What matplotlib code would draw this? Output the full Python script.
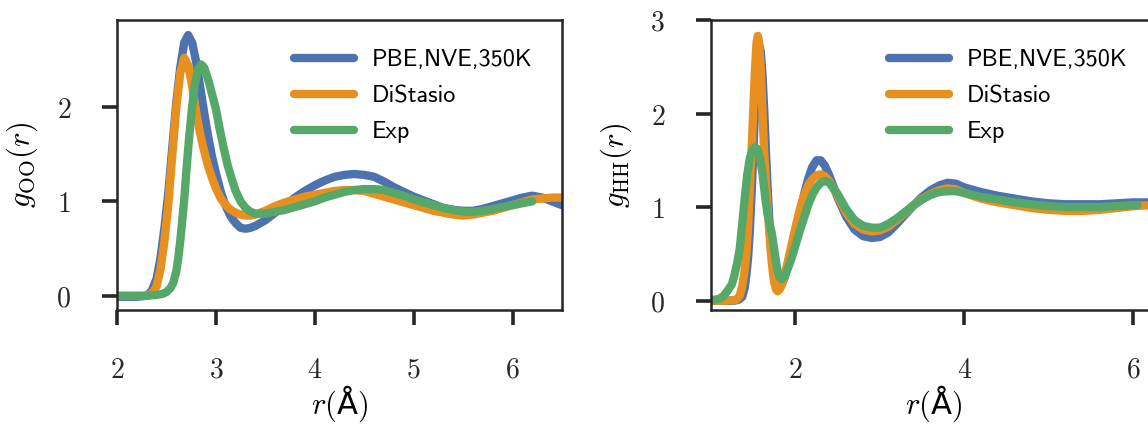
import matplotlib
matplotlib.use("Agg")
import matplotlib.pyplot as plt
from matplotlib.ticker import FuncFormatter

plt.rcParams["mathtext.fontset"] = "cm"

# O-O radial distribution
oo_pbe_r = [2.00, 2.10, 2.20, 2.30, 2.35, 2.40, 2.44, 2.48, 2.52, 2.56, 2.60, 2.64,
            2.68, 2.72, 2.76, 2.80, 2.84, 2.88, 2.92, 2.96, 3.00, 3.05, 3.10, 3.15,
            3.20, 3.25, 3.30, 3.35, 3.40, 3.50, 3.60, 3.70, 3.80, 3.90, 4.00, 4.10,
            4.20, 4.30, 4.40, 4.50, 4.60, 4.70, 4.80, 4.90, 5.00, 5.10, 5.20, 5.30,
            5.40, 5.50, 5.60, 5.70, 5.80, 5.90, 6.00, 6.10, 6.20, 6.30, 6.40, 6.50]
oo_pbe_g = [-0.01, -0.01, -0.01, 0.00, 0.05, 0.18, 0.40, 0.72, 1.10, 1.58, 2.05, 2.42,
            2.68, 2.76, 2.68, 2.48, 2.22, 1.95, 1.70, 1.48, 1.30, 1.10, 0.95, 0.84,
            0.77, 0.72, 0.71, 0.72, 0.74, 0.80, 0.88, 0.96, 1.04, 1.11, 1.17, 1.22,
            1.26, 1.28, 1.29, 1.28, 1.26, 1.21, 1.15, 1.10, 1.05, 1.01, 0.97, 0.93,
            0.91, 0.90, 0.90, 0.92, 0.95, 0.98, 1.01, 1.04, 1.06, 1.04, 1.00, 0.96]

oo_dis_r = [2.00, 2.20, 2.30, 2.36, 2.40, 2.44, 2.48, 2.52, 2.56, 2.60, 2.64, 2.68,
            2.72, 2.76, 2.80, 2.84, 2.88, 2.92, 2.96, 3.00, 3.05, 3.10, 3.15, 3.20,
            3.25, 3.30, 3.35, 3.40, 3.50, 3.60, 3.70, 3.80, 3.90, 4.00, 4.10, 4.20,
            4.30, 4.40, 4.50, 4.60, 4.70, 4.80, 4.90, 5.00, 5.10, 5.20, 5.30, 5.40,
            5.50, 5.60, 5.70, 5.80, 5.90, 6.00, 6.10, 6.20, 6.30, 6.40, 6.50]
oo_dis_g = [0.00, 0.00, 0.00, 0.03, 0.10, 0.28, 0.58, 0.98, 1.50, 2.00, 2.36, 2.52,
            2.44, 2.22, 1.95, 1.72, 1.54, 1.38, 1.25, 1.14, 1.03, 0.96, 0.91, 0.88,
            0.86, 0.85, 0.85, 0.86, 0.90, 0.95, 0.99, 1.02, 1.05, 1.07, 1.09, 1.11,
            1.12, 1.12, 1.11, 1.08, 1.05, 1.02, 0.99, 0.96, 0.93, 0.90, 0.88, 0.86,
            0.85, 0.86, 0.88, 0.90, 0.93, 0.96, 0.99, 1.02, 1.03, 1.04, 1.04]

oo_exp_r = [2.00, 2.20, 2.30, 2.40, 2.46, 2.50, 2.54, 2.57, 2.60, 2.62, 2.64, 2.66,
            2.68, 2.70, 2.73, 2.76, 2.79, 2.82, 2.85, 2.88, 2.91, 2.94, 2.97, 3.00,
            3.04, 3.08, 3.12, 3.16, 3.20, 3.25, 3.30, 3.35, 3.40, 3.45, 3.50, 3.60,
            3.70, 3.80, 3.90, 4.00, 4.10, 4.20, 4.30, 4.40, 4.50, 4.60, 4.70, 4.80,
            4.90, 5.00, 5.10, 5.20, 5.30, 5.40, 5.50, 5.60, 5.70, 5.80, 5.90, 6.00,
            6.10, 6.20]
oo_exp_g = [0.00, 0.00, 0.00, 0.01, 0.02, 0.04, 0.08, 0.14, 0.26, 0.40, 0.58, 0.80,
            1.02, 1.30, 1.68, 2.00, 2.25, 2.40, 2.45, 2.42, 2.33, 2.22, 2.10, 1.98,
            1.76, 1.56, 1.38, 1.24, 1.11, 1.00, 0.93, 0.89, 0.87, 0.87, 0.87, 0.89,
            0.91, 0.94, 0.97, 1.00, 1.04, 1.07, 1.10, 1.12, 1.13, 1.13, 1.12, 1.09,
            1.06, 1.02, 0.99, 0.96, 0.93, 0.91, 0.89, 0.89, 0.90, 0.92, 0.94, 0.96,
            0.98, 1.00]

# H-H radial distribution
hh_pbe_r = [1.00, 1.10, 1.20, 1.28, 1.33, 1.37, 1.40, 1.42, 1.44, 1.46, 1.48, 1.50,
            1.52, 1.54, 1.56, 1.575, 1.59, 1.61, 1.63, 1.65, 1.67, 1.69, 1.71, 1.73,
            1.75, 1.77, 1.80, 1.83, 1.87, 1.92, 1.96, 2.00, 2.05, 2.10, 2.15, 2.20,
            2.25, 2.30, 2.35, 2.40, 2.50, 2.60, 2.70, 2.80, 2.90, 3.00, 3.10, 3.20,
            3.30, 3.40, 3.50, 3.60, 3.70, 3.80, 3.90, 4.00, 4.20, 4.40, 4.60, 4.80,
            5.00, 5.20, 5.40, 5.60, 5.80, 6.00, 6.20, 6.30]
hh_pbe_g = [0.00, 0.00, 0.00, 0.00, 0.01, 0.04, 0.14, 0.28, 0.46, 0.74, 1.12, 1.55,
            2.00, 2.40, 2.65, 2.72, 2.66, 2.42, 2.05, 1.62, 1.22, 0.88, 0.60, 0.40,
            0.26, 0.18, 0.14, 0.16, 0.24, 0.40, 0.55, 0.72, 0.93, 1.13, 1.30, 1.43,
            1.50, 1.50, 1.44, 1.34, 1.10, 0.90, 0.76, 0.69, 0.67, 0.68, 0.73, 0.82,
            0.92, 1.02, 1.11, 1.18, 1.23, 1.26, 1.25, 1.21, 1.16, 1.12, 1.09, 1.06,
            1.04, 1.03, 1.03, 1.03, 1.04, 1.05, 1.05, 1.04]

hh_dis_r = [1.00, 1.20, 1.30, 1.34, 1.37, 1.40, 1.42, 1.44, 1.46, 1.48, 1.50, 1.52,
            1.54, 1.555, 1.57, 1.59, 1.61, 1.63, 1.65, 1.67, 1.69, 1.71, 1.73, 1.75,
            1.77, 1.79, 1.82, 1.86, 1.90, 1.95, 2.00, 2.05, 2.10, 2.15, 2.20, 2.25,
            2.30, 2.35, 2.40, 2.50, 2.60, 2.70, 2.80, 2.90, 3.00, 3.10, 3.20, 3.30,
            3.40, 3.50, 3.60, 3.70, 3.80, 3.90, 4.00, 4.20, 4.40, 4.60, 4.80, 5.00,
            5.20, 5.40, 5.60, 5.80, 6.00, 6.20, 6.30]
hh_dis_g = [0.00, 0.00, 0.01, 0.05, 0.15, 0.33, 0.51, 0.80, 1.18, 1.58, 2.02, 2.45,
            2.76, 2.83, 2.76, 2.45, 2.02, 1.58, 1.28, 1.00, 0.74, 0.51, 0.32, 0.19,
            0.12, 0.10, 0.13, 0.22, 0.38, 0.58, 0.78, 0.97, 1.12, 1.23, 1.30, 1.34,
            1.35, 1.33, 1.28, 1.12, 0.94, 0.82, 0.76, 0.74, 0.75, 0.79, 0.86, 0.94,
            1.02, 1.09, 1.14, 1.18, 1.20, 1.19, 1.15, 1.09, 1.05, 1.02, 0.99, 0.97,
            0.96, 0.96, 0.97, 0.99, 1.01, 1.02, 1.02]

hh_exp_r = [1.00, 1.05, 1.10, 1.15, 1.20, 1.25, 1.28, 1.31, 1.34, 1.37, 1.40, 1.43,
            1.46, 1.49, 1.52, 1.55, 1.58, 1.61, 1.64, 1.67, 1.70, 1.72, 1.74, 1.76,
            1.78, 1.80, 1.82, 1.84, 1.87, 1.90, 1.95, 2.00, 2.05, 2.10, 2.15, 2.20,
            2.25, 2.30, 2.35, 2.40, 2.50, 2.60, 2.70, 2.80, 2.90, 3.00, 3.10, 3.20,
            3.30, 3.40, 3.50, 3.60, 3.70, 3.80, 3.90, 4.00, 4.20, 4.40, 4.60, 4.80,
            5.00, 5.20, 5.40, 5.60, 5.80, 6.00, 6.05]
hh_exp_g = [0.01, 0.01, 0.02, 0.05, 0.11, 0.18, 0.28, 0.40, 0.55, 0.82, 1.10, 1.35,
            1.52, 1.61, 1.64, 1.62, 1.52, 1.36, 1.12, 0.92, 0.80, 0.72, 0.60, 0.48,
            0.36, 0.28, 0.24, 0.23, 0.26, 0.32, 0.44, 0.59, 0.74, 0.88, 1.02, 1.13,
            1.21, 1.26, 1.28, 1.26, 1.14, 0.98, 0.86, 0.80, 0.78, 0.78, 0.82, 0.88,
            0.95, 1.02, 1.08, 1.13, 1.16, 1.17, 1.17, 1.15, 1.11, 1.08, 1.05, 1.03,
            1.01, 1.00, 1.00, 1.00, 1.01, 1.02, 1.02]

labels = ["PBE,NVE,350K", "DiStasio", "Exp"]
colors = ["#4c72b0", "#e8901f", "#55a868"]

oo_ticks_x = [2, 3, 4, 5, 6]
oo_ticks_y = [0, 1, 2]
hh_ticks_x = [2, 4, 6]
hh_ticks_y = [0, 1, 2, 3]

fig = plt.figure(figsize=(11.48, 4.26), dpi=100)
ax1 = fig.add_axes([0.1019, 0.2723, 0.3876, 0.6808])
ax2 = fig.add_axes([0.6193, 0.2723, 0.3885, 0.6808])

panels = [
    (ax1, [(oo_pbe_r, oo_pbe_g), (oo_dis_r, oo_dis_g), (oo_exp_r, oo_exp_g)],
     r"$g_{\rm OO}(r)$", (2.0, 6.5), (-0.15, 2.92), oo_ticks_x, oo_ticks_y),
    (ax2, [(hh_pbe_r, hh_pbe_g), (hh_dis_r, hh_dis_g), (hh_exp_r, hh_exp_g)],
     r"$g_{\rm HH}(r)$", (1.0, 6.28), (-0.1, 3.0), hh_ticks_x, hh_ticks_y),
]

fmt = FuncFormatter(lambda v, _: f"${v:g}$")

for ax, series, ylab, xlim, ylim, xt, yt in panels:
    for (r, g), lab, c in zip(series, labels, colors):
        ax.plot(r, g, color=c, lw=6, label=lab, solid_capstyle="round",
                solid_joinstyle="round")
    ax.set_xlim(*xlim)
    ax.set_ylim(*ylim)
    ax.set_xticks(xt)
    ax.set_yticks(yt)
    ax.xaxis.set_major_formatter(fmt)
    ax.yaxis.set_major_formatter(fmt)
    ax.tick_params(direction="out", length=11, width=2.6, pad=22,
                   labelsize=20, color="#262626", labelcolor="#262626")
    for sp in ax.spines.values():
        sp.set_linewidth(1.8)
        sp.set_color("#262626")
    # italic r in math, the angstrom sign in sans
    ax.set_xlabel(r"$r($" + "Å" + r"$)$", fontsize=22, labelpad=0,
                  family="DejaVu Sans")
    ax.set_ylabel(ylab, fontsize=22, labelpad=12)
    ax.legend(loc="upper right", frameon=False,
              prop={"family": "cmss10", "size": 17.5},
              handlelength=2.45, handletextpad=0.75, labelspacing=0.58,
              borderaxespad=0.8)

fig.savefig("out.png", dpi=100)
